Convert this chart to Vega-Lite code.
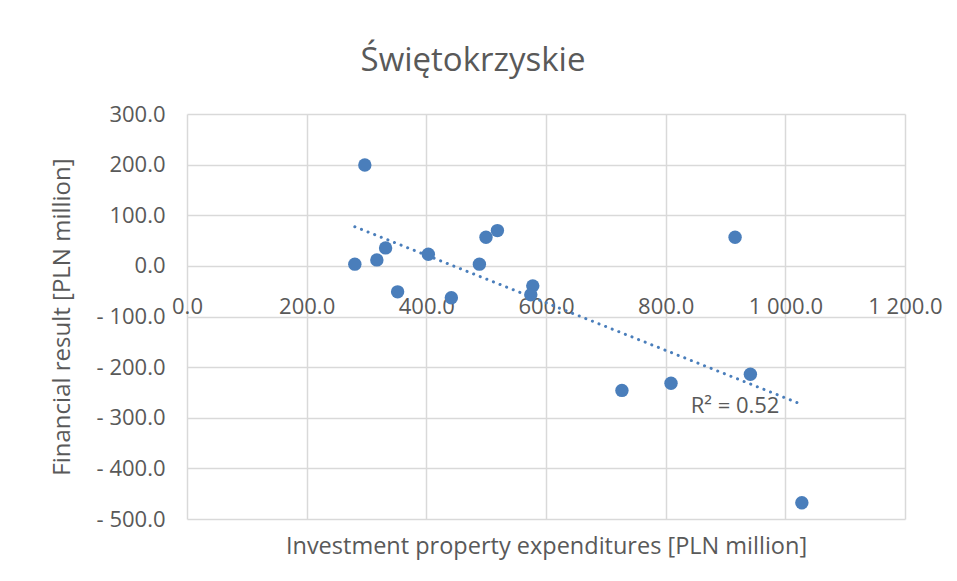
{
  "$schema": "https://vega.github.io/schema/vega-lite/v6.json",
  "width": 718,
  "height": 405,
  "autosize": {"type": "none"},
  "padding": {"left": 187, "top": 114, "right": 52, "bottom": 62},
  "background": "white",
  "config": {"view": {"stroke": null}, "font": "Open Sans"},
  "title": {
    "text": "Świętokrzyskie",
    "frame": "group",
    "anchor": "middle",
    "dx": -73,
    "dy": 37,
    "offset": 36,
    "baseline": "alphabetic",
    "fontSize": 33,
    "fontWeight": "normal",
    "font": "Open Sans",
    "color": "#595959"
  },
  "data": {
    "values": [
      {"expenditure": 297.2, "result": 199.3},
      {"expenditure": 280.5, "result": 3.4},
      {"expenditure": 317.3, "result": 11.8},
      {"expenditure": 331.9, "result": 35.5},
      {"expenditure": 352.0, "result": -51.3},
      {"expenditure": 403.3, "result": 23.0},
      {"expenditure": 441.8, "result": -63.1},
      {"expenditure": 488.7, "result": 3.4},
      {"expenditure": 499.7, "result": 56.6},
      {"expenditure": 518.8, "result": 69.7},
      {"expenditure": 577.9, "result": -39.5},
      {"expenditure": 574.6, "result": -57.2},
      {"expenditure": 726.9, "result": -246.0},
      {"expenditure": 808.9, "result": -232.0},
      {"expenditure": 916.0, "result": 56.6},
      {"expenditure": 941.6, "result": -214.0},
      {"expenditure": 1027.6, "result": -468.0}
    ]
  },
  "layer": [
    {
      "mark": {"type": "circle", "size": 180, "color": "#4A7EBB", "opacity": 1},
      "encoding": {
        "x": {
          "field": "expenditure",
          "type": "quantitative",
          "scale": {"domain": [0, 1200], "nice": false, "zero": false},
          "axis": {
            "orient": "bottom",
            "offset": -253,
            "values": [0, 200, 400, 600, 800, 1000, 1200],
            "grid": true,
            "gridColor": "#d9d9d9",
            "gridWidth": 1.5,
            "domain": false,
            "ticks": false,
            "labelPadding": 30,
            "labelFontSize": 22,
            "labelColor": "#595959",
            "labelFlush": false,
            "labelOverlap": false,
            "labelExpr": "replace(format(datum.value, ',.1f'), ',', ' ')",
            "title": "Investment property expenditures [PLN million]",
            "titleFontSize": 23.5,
            "titleFontWeight": "normal",
            "titleColor": "#595959",
            "titleY": 280,
            "titleBaseline": "middle"
          }
        },
        "y": {
          "field": "result",
          "type": "quantitative",
          "scale": {"domain": [-500, 300], "nice": false, "zero": false},
          "axis": {
            "values": [-500, -400, -300, -200, -100, 0, 100, 200, 300],
            "grid": true,
            "gridColor": "#d9d9d9",
            "gridWidth": 1.5,
            "domain": false,
            "ticks": false,
            "labelPadding": 22,
            "labelFontSize": 22,
            "labelColor": "#595959",
            "labelOverlap": false,
            "labelExpr": "datum.value < 0 ? '- ' + format(-datum.value, '.1f') : format(datum.value, '.1f')",
            "title": "Financial result [PLN million]",
            "titleFontSize": 24,
            "titleFontWeight": "normal",
            "titleColor": "#595959",
            "titleX": -125,
            "titleY": 202.5,
            "titleAngle": -90,
            "titleAlign": "center",
            "titleBaseline": "middle"
          }
        }
      }
    },
    {
      "transform": [{"regression": "result", "on": "expenditure"}],
      "mark": {"type": "line", "color": "#4A7EBB", "strokeWidth": 3, "strokeDash": [0.1, 7], "strokeCap": "round"},
      "encoding": {
        "x": {"field": "expenditure", "type": "quantitative"},
        "y": {"field": "result", "type": "quantitative"}
      }
    },
    {
      "data": {"values": [{"label": "R² = 0.52"}]},
      "mark": {"type": "text", "fontSize": 22, "color": "#595959", "align": "center", "baseline": "middle", "font": "Open Sans"},
      "encoding": {
        "text": {"field": "label"},
        "x": {"datum": 916, "type": "quantitative"},
        "y": {"datum": -276, "type": "quantitative"}
      }
    }
  ]
}
